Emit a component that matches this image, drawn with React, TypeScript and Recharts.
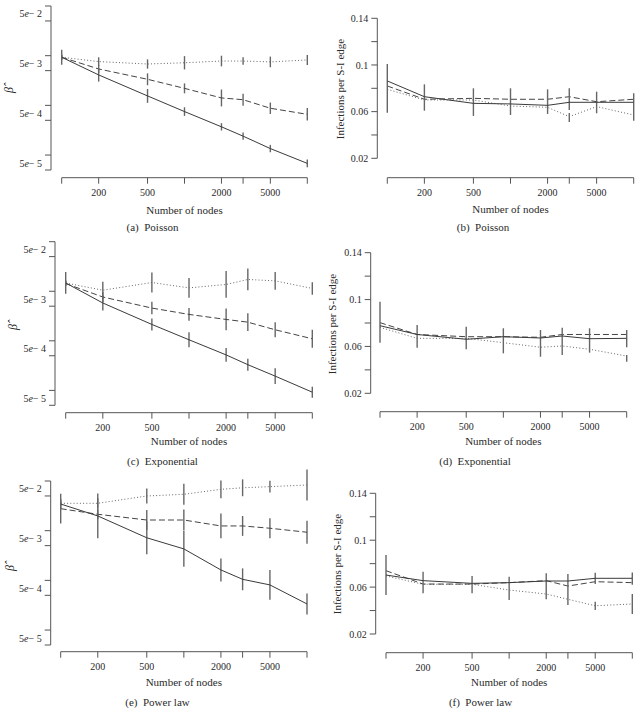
import React from 'react';
import { ComposedChart, Line, XAxis, YAxis, ErrorBar } from 'recharts';

const PAGE_W = 643;
const PAGE_H = 712;
const FONT = '"Liberation Serif", "DejaVu Serif", serif';
const AXIS_COLOR = '#555';
const TEXT_COLOR = '#2a2a2a';
const LINE_COLOR = '#3a3a3a';
const DASH_COLOR = '#444';
const DOT_COLOR = '#666';
const BAR_COLOR = '#666';

// ---------- shared axis values ----------
const nodes = [100, 200, 500, 1000, 2000, 3000, 5000, 10000];
const xTickLabels = [200, 500, 2000, 5000];
const logTicks = [1e-1, 5e-2, 1e-2, 5e-3, 1e-3, 5e-4, 1e-4, 5e-5];
const logTickLabels = [5e-2, 5e-3, 5e-4, 5e-5];
const linTicks = [0.02, 0.04, 0.06, 0.08, 0.1, 0.12, 0.14];
const linTickLabels = [0.02, 0.06, 0.1, 0.14];

// ---------- (a) Poisson, beta-hat (error half-widths in decades) ----------
const poissonBetaSolid = [9.3e-3, 4.1e-3, 1.55e-3, 7.5e-4, 3.7e-4, 2.4e-4, 1.35e-4, 6.8e-5];
const poissonBetaDashed = [9.3e-3, 5.4e-3, 3.35e-3, 2.2e-3, 1.41e-3, 1.3e-3, 8.75e-4, 6.6e-4];
const poissonBetaDotted = [9.3e-3, 7.6e-3, 6.8e-3, 7.2e-3, 7.8e-3, 7.8e-3, 7.5e-3, 8.2e-3];
const poissonBetaSolidErr = [0.15, 0.135, 0.14, 0.087, 0.074, 0.074, 0.074, 0.08];
const poissonBetaDashedErr = [0.05, 0.08, 0.12, 0.1, 0.17, 0.12, 0.115, 0.125];
const poissonBetaDottedErr = [0.05, 0.087, 0.094, 0.134, 0.107, 0.077, 0.107, 0.1];

// ---------- (b) Poisson, infections per S-I edge ----------
const poissonRateSolid = [0.0863, 0.0728, 0.0671, 0.0666, 0.0654, 0.068, 0.068, 0.068];
const poissonRateDashed = [0.082, 0.0706, 0.0714, 0.0706, 0.0706, 0.0728, 0.0685, 0.0706];
const poissonRateDotted = [0.0791, 0.07, 0.07, 0.0648, 0.0637, 0.0557, 0.0643, 0.0571];
const poissonRateLo = [0.0591, 0.0608, 0.0563, 0.0571, 0.058, 0.0614, 0.0586, 0.0522];
const poissonRateHi = [0.1008, 0.0834, 0.08, 0.08, 0.0791, 0.08, 0.0771, 0.0757];
const poissonRateDottedLo = [null, null, null, null, null, 0.0511, null, null];
const poissonRateDottedHi = [null, null, null, null, null, 0.0588, null, null];

// ---------- (c) Exponential, beta-hat ----------
const expBetaSolid = [1.47e-2, 5.8e-3, 2.14e-3, 1.05e-3, 5.2e-4, 3.3e-4, 1.94e-4, 9.2e-5];
const expBetaDashed = [1.43e-2, 7.66e-3, 4.58e-3, 3.41e-3, 2.7e-3, 2.38e-3, 1.67e-3, 1.1e-3];
const expBetaDotted = [1.47e-2, 1.05e-2, 1.5e-2, 1.17e-2, 1.37e-2, 1.73e-2, 1.62e-2, 1.14e-2];
const expBetaSolidErr = [0.22, 0.15, 0.12, 0.15, 0.14, 0.12, 0.16, 0.11];
const expBetaDashedErr = [0.05, 0.1, 0.125, 0.13, 0.22, 0.18, 0.15, 0.18];
const expBetaDottedErr = [0.05, 0.17, 0.2, 0.2, 0.27, 0.22, 0.18, 0.125];

// ---------- (d) Exponential, infections per S-I edge ----------
const expRateSolid = [0.0777, 0.0702, 0.0661, 0.0683, 0.0672, 0.0689, 0.0666, 0.0669];
const expRateDashed = [0.0803, 0.0702, 0.0683, 0.0683, 0.0678, 0.0702, 0.0702, 0.0702];
const expRateDotted = [0.0763, 0.0669, 0.0669, 0.0632, 0.0593, 0.0604, 0.0576, 0.0518];
const expRateLo = [0.0632, 0.0589, 0.0575, 0.0541, 0.0512, 0.0527, 0.0547, 0.0593];
const expRateHi = [0.0982, 0.0783, 0.0768, 0.0755, 0.074, 0.076, 0.0755, 0.074];
const expRateDottedLo = [null, null, null, null, null, null, null, 0.047];
const expRateDottedHi = [null, null, null, null, null, null, null, 0.0527];

// ---------- (e) Power law, beta-hat ----------
const powBetaSolid = [3.44e-2, 1.98e-2, 7.2e-3, 4.3e-3, 1.62e-3, 1.05e-3, 8.1e-4, 3.35e-4];
const powBetaDashed = [2.77e-2, 2.14e-2, 1.64e-2, 1.64e-2, 1.245e-2, 1.245e-2, 1.12e-2, 9.3e-3];
const powBetaDotted = [3.56e-2, 3.56e-2, 4.99e-2, 5.4e-2, 6.8e-2, 7.3e-2, 7.7e-2, 8.3e-2];
const powBetaSolidErr = [0.1, 0.45, 0.33, 0.36, 0.23, 0.22, 0.3, 0.21];
const powBetaDashedErr = [0.3, 0.1, 0.2, 0.21, 0.25, 0.2, 0.2, 0.23];
const powBetaDottedErr = [0.05, 0.1, 0.15, 0.21, 0.18, 0.17, 0.12, 0.31];

// ---------- (f) Power law, infections per S-I edge ----------
const powRateSolid = [0.0703, 0.0655, 0.0632, 0.0638, 0.0652, 0.0652, 0.0675, 0.0675];
const powRateDashed = [0.074, 0.0626, 0.0626, 0.0638, 0.0655, 0.0609, 0.0646, 0.0638];
const powRateDotted = [0.0695, 0.0624, 0.0624, 0.0575, 0.0541, 0.0496, 0.0441, 0.0456];
const powRateLo = [0.0532, 0.0547, 0.0547, 0.049, 0.0496, 0.0447, 0.0626, 0.062];
const powRateHi = [0.0874, 0.0731, 0.0695, 0.0689, 0.0718, 0.0712, 0.0723, 0.0725];
const powRateDottedLo = [null, null, null, null, null, null, 0.0405, 0.0371];
const powRateDottedHi = [null, null, null, null, null, null, 0.0475, 0.0541];

// ---------- row builders ----------
const spread = (v: number, dec: number) => [v - v / Math.pow(10, dec), v * Math.pow(10, dec) - v];

function logRows(s: number[], d: number[], o: number[], se: number[], de: number[], oe: number[]) {
  return nodes.map((n, i) => ({
    n,
    s: s[i],
    d: d[i],
    o: o[i],
    sErr: spread(s[i], se[i]),
    dErr: spread(d[i], de[i]),
    oErr: spread(o[i], oe[i]),
  }));
}

function linRows(
  s: number[], d: number[], o: number[], lo: number[], hi: number[],
  oLo: (number | null)[], oHi: (number | null)[]
) {
  return nodes.map((n, i) => ({
    n,
    s: s[i],
    d: d[i],
    o: o[i],
    sErr: [s[i] - lo[i], hi[i] - s[i]],
    dErr: [0, 0],
    oErr: oLo[i] == null ? [0, 0] : [o[i] - (oLo[i] as number), (oHi[i] as number) - o[i]],
  }));
}

const rowsA = logRows(poissonBetaSolid, poissonBetaDashed, poissonBetaDotted, poissonBetaSolidErr, poissonBetaDashedErr, poissonBetaDottedErr);
const rowsB = linRows(poissonRateSolid, poissonRateDashed, poissonRateDotted, poissonRateLo, poissonRateHi, poissonRateDottedLo, poissonRateDottedHi);
const rowsC = logRows(expBetaSolid, expBetaDashed, expBetaDotted, expBetaSolidErr, expBetaDashedErr, expBetaDottedErr);
const rowsD = linRows(expRateSolid, expRateDashed, expRateDotted, expRateLo, expRateHi, expRateDottedLo, expRateDottedHi);
const rowsE = logRows(powBetaSolid, powBetaDashed, powBetaDotted, powBetaSolidErr, powBetaDashedErr, powBetaDottedErr);
const rowsF = linRows(powRateSolid, powRateDashed, powRateDotted, powRateLo, powRateHi, powRateDottedLo, powRateDottedHi);

// ---------- layout ----------
type PanelDef = {
  key: string;
  kind: 'log' | 'lin';
  rows: any[];
  yAxisX: number;
  xL: number;
  xR: number;
  yT: number;
  yB: number;
  xAxisY: number;
  xTitleY: number;
  yTitleX: number;
  yTitleY: number;
  caption: string;
  capX: number;
  capY: number;
};

const panels: PanelDef[] = [
  { key: 'a', kind: 'log', rows: rowsA, yAxisX: 51, xL: 61.7, xR: 307.3, yT: 6, yB: 170, xAxisY: 177.7, xTitleY: 210, yTitleX: 8.5, yTitleY: 90, caption: '(a)\u00a0\u00a0Poisson', capX: 152.5, capY: 227.5 },
  { key: 'b', kind: 'lin', rows: rowsB, yAxisX: 377.3, xL: 387.3, xR: 633.7, yT: 18.3, yB: 158.3, xAxisY: 177.7, xTitleY: 209.5, yTitleX: 340, yTitleY: 89, caption: '(b)\u00a0\u00a0Poisson', capX: 483, capY: 227.5 },
  { key: 'c', kind: 'log', rows: rowsC, yAxisX: 55, xL: 65.7, xR: 312.3, yT: 241.7, yB: 405.3, xAxisY: 412.7, xTitleY: 440.7, yTitleX: 13.3, yTitleY: 327, caption: '(c)\u00a0\u00a0Exponential', capX: 162.5, capY: 461 },
  { key: 'd', kind: 'lin', rows: rowsD, yAxisX: 370.7, xL: 380, xR: 626.7, yT: 252.7, yB: 393.3, xAxisY: 411.7, xTitleY: 440.7, yTitleX: 331.7, yTitleY: 324, caption: '(d)\u00a0\u00a0Exponential', capX: 475, capY: 461 },
  { key: 'e', kind: 'log', rows: rowsE, yAxisX: 50.7, xL: 60.7, xR: 307, yT: 481, yB: 645, xAxisY: 651.7, xTitleY: 681.7, yTitleX: 10, yTitleY: 568, caption: '(e)\u00a0\u00a0Power law', capX: 157.5, capY: 701.7 },
  { key: 'f', kind: 'lin', rows: rowsF, yAxisX: 375.7, xL: 386, xR: 632.3, yT: 493.3, yB: 634, xAxisY: 652.7, xTitleY: 681.7, yTitleX: 336.7, yTitleY: 564, caption: '(f)\u00a0\u00a0Power law', capX: 480.5, capY: 701.7 },
];

const XAXIS_H = 30;
const YAXIS_W = 48;

const xTickFormatter = (v: number) => (xTickLabels.some((t) => Math.abs(t - v) < 1e-6) ? String(v) : '');
const linTickFormatter = (v: number) => (linTickLabels.some((t) => Math.abs(t - v) < 1e-9) ? String(v) : '');

const LogTick = (props: any) => {
  const { x, y, payload } = props;
  const v = payload?.value;
  const hit = logTickLabels.find((t) => Math.abs(t - v) / t < 1e-6);
  if (hit == null) return <g />;
  const exp = Math.round(-Math.log10(hit / 5));
  return (
    <text x={x} y={y - 7} dy="0.35em" textAnchor="end" fontSize={10} fontFamily={FONT} fill={TEXT_COLOR}>
      5<tspan fontStyle="italic">e</tspan>{'\u2212 ' + exp}
    </text>
  );
};

const abs: React.CSSProperties = { position: 'absolute', left: 0, top: 0 };

function xDomain(): [number, number] {
  return [nodes[0], nodes[nodes.length - 1]];
}

function yDomain(kind: 'log' | 'lin'): [number, number] {
  return kind === 'log'
    ? [logTicks[logTicks.length - 1], logTicks[0]]
    : [linTicks[0], linTicks[linTicks.length - 1]];
}

function Panel({ p }: { p: PanelDef }) {
  const yScale = p.kind === 'log' ? 'log' : 'linear';
  const yd = yDomain(p.kind);
  const xd = xDomain();
  const tickStyle = { fontSize: 10, fontFamily: FONT, fill: TEXT_COLOR };

  return (
    <>
      {/* X axis (detached, below plot) */}
      <div style={abs}>
        <ComposedChart
          width={PAGE_W}
          height={PAGE_H}
          data={p.rows}
          margin={{ left: p.xL, right: PAGE_W - p.xR, top: p.yT, bottom: PAGE_H - p.xAxisY - XAXIS_H }}
        >
          <XAxis
            dataKey="n"
            type="number"
            scale="log"
            domain={xd}
            allowDataOverflow
            ticks={nodes}
            interval={0}
            tickFormatter={xTickFormatter}
            height={XAXIS_H}
            tickSize={6}
            tickMargin={5}
            tick={tickStyle}
            axisLine={{ stroke: AXIS_COLOR, strokeWidth: 1 }}
            tickLine={{ stroke: AXIS_COLOR, strokeWidth: 1 }}
          />
          <YAxis hide type="number" scale={yScale} domain={yd} allowDataOverflow />
        </ComposedChart>
      </div>
      {/* Y axis (detached, left of plot) */}
      <div style={abs}>
        <ComposedChart
          width={PAGE_W}
          height={PAGE_H}
          data={p.rows}
          margin={{ left: p.yAxisX - YAXIS_W, right: PAGE_W - p.xR, top: p.yT, bottom: PAGE_H - p.yB }}
        >
          <XAxis hide dataKey="n" type="number" scale="log" domain={xd} allowDataOverflow />
          {p.kind === 'log' ? (
            <YAxis
              type="number"
              scale="log"
              domain={yd}
              allowDataOverflow
              ticks={logTicks}
              interval={0}
              width={YAXIS_W}
              tickSize={6}
              tickMargin={3}
              tick={<LogTick />}
              axisLine={{ stroke: AXIS_COLOR, strokeWidth: 1 }}
              tickLine={{ stroke: AXIS_COLOR, strokeWidth: 1 }}
            />
          ) : (
            <YAxis
              type="number"
              scale="linear"
              domain={yd}
              allowDataOverflow
              ticks={linTicks}
              interval={0}
              tickFormatter={linTickFormatter}
              width={YAXIS_W}
              tickSize={6}
              tickMargin={3}
              tick={tickStyle}
              axisLine={{ stroke: AXIS_COLOR, strokeWidth: 1 }}
              tickLine={{ stroke: AXIS_COLOR, strokeWidth: 1 }}
            />
          )}
        </ComposedChart>
      </div>
      {/* Data */}
      <div style={abs}>
        <ComposedChart
          width={PAGE_W}
          height={PAGE_H}
          data={p.rows}
          margin={{ left: p.xL, right: PAGE_W - p.xR, top: p.yT, bottom: PAGE_H - p.yB }}
        >
          <XAxis hide dataKey="n" type="number" scale="log" domain={xd} allowDataOverflow />
          <YAxis hide type="number" scale={yScale} domain={yd} allowDataOverflow />
          <Line
            dataKey="o"
            type="linear"
            stroke={DOT_COLOR}
            strokeWidth={1}
            strokeDasharray="1 2.2"
            dot={false}
            activeDot={false}
            isAnimationActive={false}
          >
            <ErrorBar dataKey="oErr" direction="y" width={0} stroke={BAR_COLOR} strokeWidth={1.4} />
          </Line>
          <Line
            dataKey="d"
            type="linear"
            stroke={DASH_COLOR}
            strokeWidth={1}
            strokeDasharray="6 3"
            dot={false}
            activeDot={false}
            isAnimationActive={false}
          >
            <ErrorBar dataKey="dErr" direction="y" width={0} stroke={BAR_COLOR} strokeWidth={1.4} />
          </Line>
          <Line
            dataKey="s"
            type="linear"
            stroke={LINE_COLOR}
            strokeWidth={1}
            dot={false}
            activeDot={false}
            isAnimationActive={false}
          >
            <ErrorBar dataKey="sErr" direction="y" width={0} stroke={BAR_COLOR} strokeWidth={1.4} />
          </Line>
        </ComposedChart>
      </div>
    </>
  );
}

export default function App() {
  return (
    <div style={{ position: 'absolute', left: 0, top: 0, width: PAGE_W, height: PAGE_H, background: '#fff', overflow: 'hidden' }}>
      {panels.map((p) => (
        <Panel key={p.key} p={p} />
      ))}
      <svg width={PAGE_W} height={PAGE_H} style={{ ...abs, pointerEvents: 'none' }}>
        {panels.map((p) => (
          <g key={p.key} fontFamily={FONT} fill={TEXT_COLOR}>
            <text x={(p.xL + p.xR) / 2} y={p.xTitleY} dy="0.35em" textAnchor="middle" fontSize={11}>
              Number of nodes
            </text>
            <text
              x={p.yTitleX}
              y={p.yTitleY}
              dy="0.35em"
              textAnchor="middle"
              fontSize={p.kind === 'log' ? 12 : 11}
              fontStyle={p.kind === 'log' ? 'italic' : 'normal'}
              transform={`rotate(-90 ${p.yTitleX} ${p.yTitleY})`}
            >
              {p.kind === 'log' ? '\u03b2\u0302' : 'Infections per S-I edge'}
            </text>
            <text x={p.capX} y={p.capY} dy="0.35em" textAnchor="middle" fontSize={11}>
              {p.caption}
            </text>
          </g>
        ))}
      </svg>
    </div>
  );
}
